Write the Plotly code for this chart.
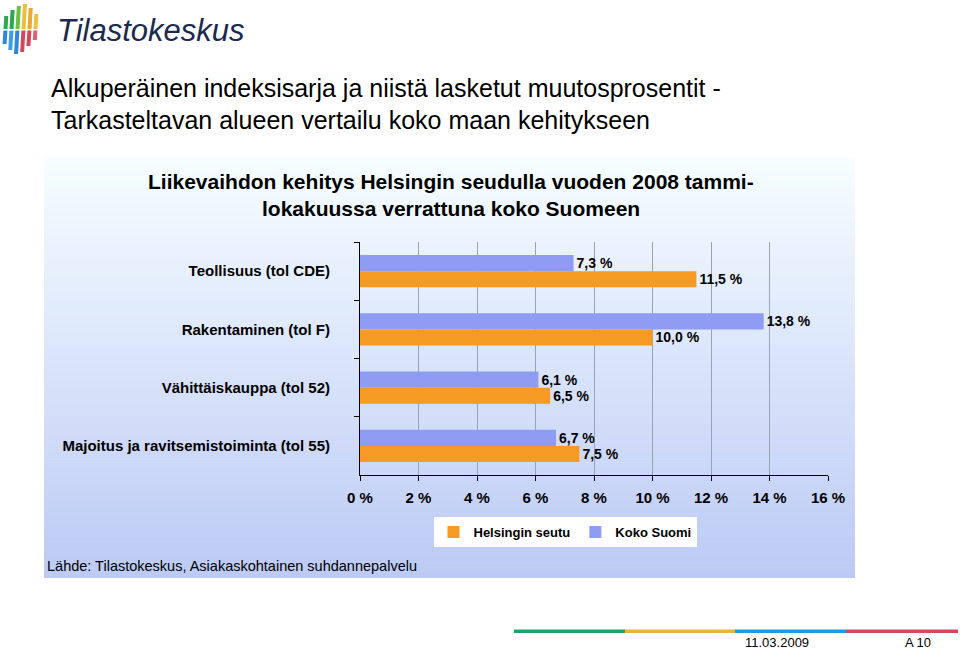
import plotly.graph_objects as go

categories = ["Teollisuus (tol CDE)", "Rakentaminen (tol F)", "Vähittäiskauppa (tol 52)",
              "Majoitus ja ravitsemistoiminta (tol 55)"]
helsinki = [11.5, 10.0, 6.5, 7.5]
koko_suomi = [7.3, 13.8, 6.1, 6.7]
x_ticks = [0, 2, 4, 6, 8, 10, 12, 14, 16]

W, H = 960, 650
ML, MR, MT, MB = 360, 132, 242, 175
PW, PH = W - ML - MR, H - MT - MB


def px(x):
    return (x - ML) / PW


def py(y):
    return (H - MB - y) / PH


def fmt(v):
    return f"{v:.1f}".replace(".", ",") + " %"


ORANGE = "#F59A23"
BLUE = "#8E9CF4"
LBL = dict(family="Liberation Sans", size=14, color="black", weight="bold")

fig = go.Figure()
fig.add_trace(go.Bar(
    y=categories, x=koko_suomi, orientation="h", name="Koko Suomi",
    marker=dict(color=BLUE, line=dict(width=0)),
    text=[fmt(v) for v in koko_suomi], textposition="outside",
    textfont=LBL, cliponaxis=False, legendrank=2,
))
fig.add_trace(go.Bar(
    y=categories, x=helsinki, orientation="h", name="Helsingin seutu",
    marker=dict(color=ORANGE, line=dict(width=0)),
    text=[fmt(v) for v in helsinki], textposition="outside",
    textfont=LBL, cliponaxis=False, legendrank=1,
))

shapes = []
# gradient panel
x0, x1, y0, y1 = 44, 855, 157, 578
top = (246, 254, 255)
bot = (188, 202, 245)
n = 80
for i in range(n):
    t = i / (n - 1)
    c = tuple(round(top[k] + (bot[k] - top[k]) * t) for k in range(3))
    ya = y0 + (y1 - y0) * i / n
    yb = y0 + (y1 - y0) * (i + 1) / n + 0.6
    shapes.append(dict(type="rect", xref="paper", yref="paper", layer="below",
                       x0=px(x0), x1=px(x1), y0=py(ya), y1=py(min(yb, y1)),
                       line=dict(width=0), fillcolor=f"rgb{c}"))

# bottom colour strip
strip = [("#1FA36B", 514, 625), ("#E8B43C", 625, 735), ("#1E9BE0", 735, 846), ("#D1495B", 846, 958)]
for col, a, b in strip:
    shapes.append(dict(type="rect", xref="paper", yref="paper", layer="above",
                       x0=px(a), x1=px(b), y0=py(629.5), y1=py(633),
                       line=dict(width=0), fillcolor=col))

# logo stripes
logo_top = ["#2BA84A", "#2BA84A", "#6CC04A", "#E8C23A", "#F0A830", "#F0C040"]
logo_bot = ["#2E86DE", "#3AA0E8", "#2E86DE", "#D6455A", "#D6455A", "#E06070"]
tops = [16, 10, 6, 4, 8, 14]
bots = [44, 50, 54, 52, 46, 40]
for i in range(6):
    xa = 5 + i * 6
    w = 4
    mid = 29
    sl = 3
    for (ya, yb, col) in [(tops[i], mid, logo_top[i]), (mid + 1.5, bots[i], logo_bot[i])]:
        xa_b = xa + sl * (yb - 4) / 50
        xa_t = xa + sl * (ya - 4) / 50
        pts = [(xa - xa_b + xa, yb), (xa - xa_b + xa + w, yb), (xa - xa_t + xa + w, ya), (xa - xa_t + xa, ya)]
        path = "M " + " L ".join(f"{px(p[0])},{py(p[1])}" for p in pts) + " Z"
        shapes.append(dict(type="path", xref="paper", yref="paper", path=path,
                           line=dict(width=0), fillcolor=col, layer="above"))

annotations = [
    dict(text="Tilastokeskus", x=px(55), y=py(30), xanchor="left", yanchor="middle",
         font=dict(family="Liberation Sans", size=31, color="#1B2A4E", style="italic")),
    dict(text="Alkuperäinen indeksisarja ja niistä lasketut muutosprosentit -",
         x=px(49), y=py(88), xanchor="left", yanchor="middle",
         font=dict(family="Liberation Sans", size=25, color="black")),
    dict(text="Tarkasteltavan alueen vertailu koko maan kehitykseen",
         x=px(49), y=py(120), xanchor="left", yanchor="middle",
         font=dict(family="Liberation Sans", size=25, color="black")),
    dict(text="Liikevaihdon kehitys Helsingin seudulla vuoden 2008 tammi-",
         x=px(451), y=py(181), xanchor="center", yanchor="middle",
         font=dict(family="Liberation Sans", size=21, color="black", weight="bold")),
    dict(text="lokakuussa verrattuna koko Suomeen",
         x=px(451), y=py(208), xanchor="center", yanchor="middle",
         font=dict(family="Liberation Sans", size=21, color="black", weight="bold")),
    dict(text="Lähde: Tilastokeskus, Asiakaskohtainen suhdannepalvelu",
         x=px(45), y=py(566), xanchor="left", yanchor="middle",
         font=dict(family="Liberation Sans", size=14.5, color="black")),
    dict(text="11.03.2009", x=px(777), y=py(642), xanchor="center", yanchor="middle",
         font=dict(family="Liberation Sans", size=13, color="black")),
    dict(text="A 10", x=px(918), y=py(642), xanchor="center", yanchor="middle",
         font=dict(family="Liberation Sans", size=13, color="black")),
]
for a in annotations:
    a.update(xref="paper", yref="paper", showarrow=False)

fig.update_layout(
    width=W, height=H,
    margin=dict(l=ML, r=MR, t=MT, b=MB, pad=0),
    paper_bgcolor="white", plot_bgcolor="rgba(0,0,0,0)",
    barmode="group", bargap=0.45, bargroupgap=0,
    shapes=shapes, annotations=annotations,
    showlegend=True,
    legend=dict(orientation="h", x=px(565), y=py(532), xanchor="center", yanchor="middle",
                bgcolor="white", borderwidth=0, itemwidth=30,
                font=dict(family="Liberation Sans", size=13, color="black", weight="bold")),
    xaxis=dict(range=[0, 16], tickvals=x_ticks, ticktext=[f"{v} %" for v in x_ticks],
               showgrid=True, gridcolor="#9AA3B5", gridwidth=1,
               showline=True, linecolor="black", linewidth=1,
               ticks="outside", ticklen=5, tickcolor="black", zeroline=False,
               ticklabelstandoff=4,
               tickfont=dict(family="Liberation Sans", size=15, color="black", weight="bold"),
               fixedrange=True),
    yaxis=dict(categoryorder="array", categoryarray=categories, autorange="reversed",
               showline=True, linecolor="black", linewidth=1,
               ticks="outside", ticklen=5, tickcolor="black", tickson="boundaries",
               showgrid=False, ticklabelstandoff=26,
               tickfont=dict(family="Liberation Sans", size=15, color="black", weight="bold"),
               fixedrange=True),
)

fig.write_html("out.html")
